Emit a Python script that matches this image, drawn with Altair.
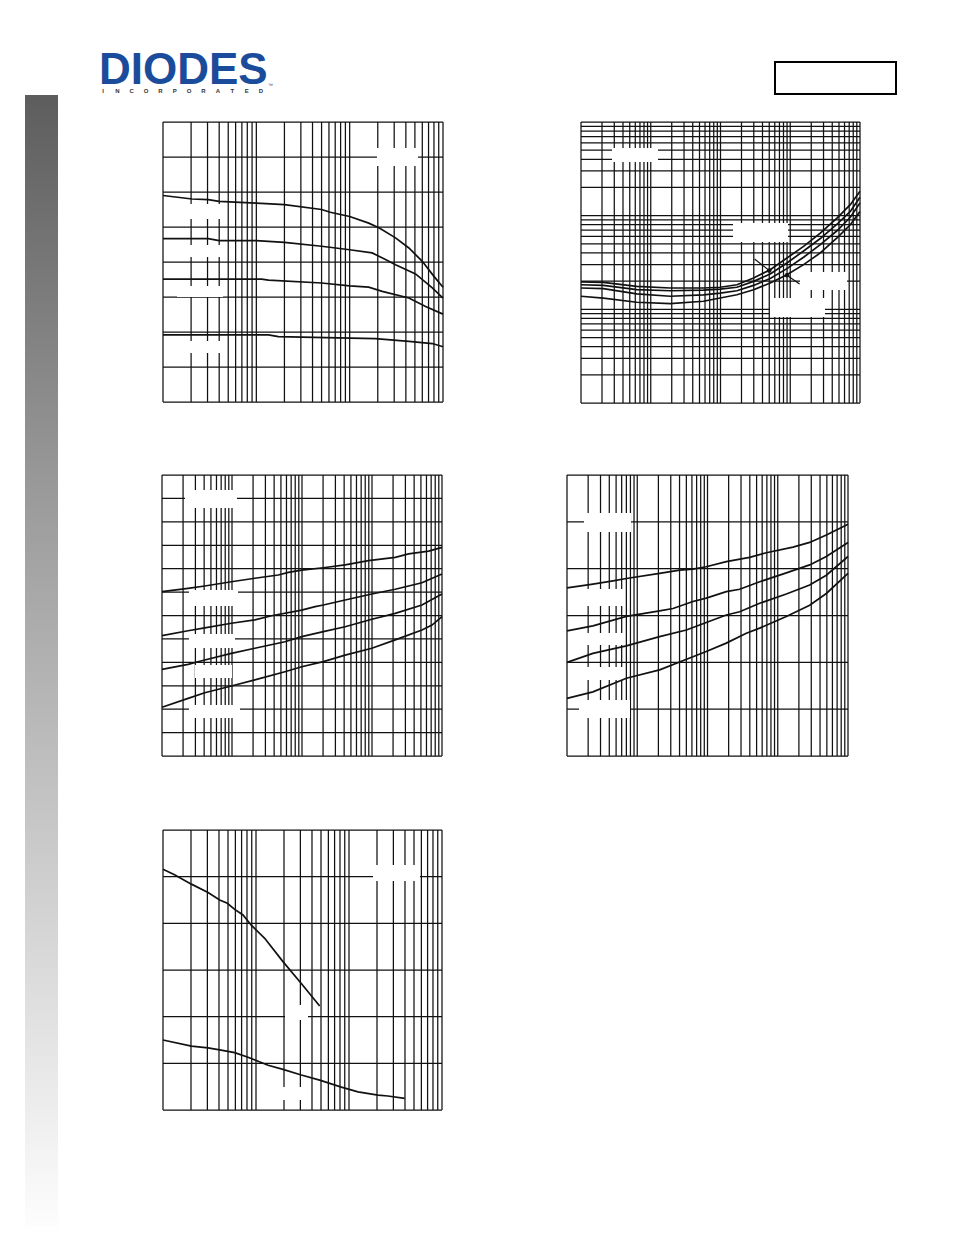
import altair as alt
import pandas as pd

# ---------------- data ----------------
# Panel 1 (x: log 1..1000, y: linear 0..8)
P1_A_X = [1, 2.05, 3.05, 4, 10, 20, 50, 62, 100, 160, 208, 310, 431, 600, 800, 1000]
P1_A_Y = [5.90, 5.80, 5.78, 5.73, 5.68, 5.64, 5.50, 5.42, 5.30, 5.11, 4.97, 4.69, 4.40, 4.02, 3.59, 3.28]
P1_B_X = [1, 3.05, 4, 10, 20, 50, 100, 174, 242, 310, 508, 768, 1000]
P1_B_Y = [4.67, 4.67, 4.61, 4.61, 4.56, 4.45, 4.35, 4.26, 4.07, 3.92, 3.66, 3.26, 2.97]
P1_C_X = [1, 11.4, 13.5, 50, 100, 160, 223, 431, 651, 1000]
P1_C_Y = [3.51, 3.51, 3.48, 3.40, 3.32, 3.28, 3.16, 2.97, 2.73, 2.51]
P1_D_X = [1, 13.5, 17.2, 76, 189, 431, 768, 1000]
P1_D_Y = [1.92, 1.92, 1.87, 1.83, 1.81, 1.73, 1.67, 1.58]

# Panel 2 (x: log 1..10000, y: log 1..1000)
P2_X = [1, 2.09, 6.3, 19, 57, 99, 172, 298, 516, 896, 1553, 2697, 4677, 7262, 10000]
P2_A_Y = [19.6, 19.4, 17.6, 16.9, 16.9, 17.2, 18.3, 21.6, 26.5, 35.3, 47, 65, 94, 131, 182]
P2_B_Y = [18.3, 18.0, 16.2, 15.8, 16.0, 16.4, 17.2, 19.9, 23.8, 31.2, 42, 57, 81, 111, 157]
P2_C_Y = [16.9, 16.6, 14.6, 13.8, 14.3, 14.9, 15.8, 18.0, 21.3, 27.2, 36, 49, 69, 96, 137]
P2_D_Y = [13.8, 13.2, 11.9, 11.5, 12.2, 13.2, 14.3, 16.2, 19.1, 23.4, 30, 40, 58, 80, 111]
P2_ARROW_X = [308, 500, 896, 1361]
P2_ARROW_Y = [34.5, 25.9, 23.1, 18.6]
P2_ARROW_ID = ["a1", "a1", "a2", "a2"]
P2_HEAD_X = [500, 896]
P2_HEAD_Y = [25.9, 23.1]

# Panel 3 (x: log 1..10000, y: linear 0..12)
P3_A_X = [1, 2.36, 4.08, 9.8, 21.2, 45.8, 64, 99, 202, 413, 891, 2148, 3334, 6442, 10000]
P3_A_Y = [7.02, 7.16, 7.26, 7.44, 7.59, 7.73, 7.84, 7.94, 8.04, 8.16, 8.34, 8.48, 8.63, 8.75, 8.91]
P3_B_X = [1, 2.36, 4.08, 9.8, 21.2, 36.8, 99, 154, 202, 413, 995, 2148, 5170, 10000]
P3_B_Y = [5.14, 5.35, 5.47, 5.67, 5.81, 5.99, 6.23, 6.38, 6.45, 6.66, 6.92, 7.12, 7.40, 7.77]
P3_C_X = [1, 2.36, 4.08, 9.8, 21.2, 57, 99, 202, 413, 995, 2148, 5170, 10000]
P3_C_Y = [3.70, 3.91, 4.10, 4.38, 4.60, 4.88, 5.10, 5.31, 5.52, 5.84, 6.09, 6.45, 6.92]
P3_D_X = [1, 2.36, 4.08, 9.8, 21.2, 57, 99, 202, 413, 995, 2148, 5170, 7194, 10000]
P3_D_Y = [2.08, 2.46, 2.70, 2.99, 3.25, 3.60, 3.81, 4.03, 4.31, 4.60, 4.96, 5.38, 5.59, 5.95]

# Panel 4 (x: log 1..10000, y: linear 0..6)
P4_A_X = [1, 2.34, 4.52, 7.0, 20.8, 40.2, 62, 96, 185, 398, 688, 1648, 2847, 4918, 10000]
P4_A_Y = [3.59, 3.67, 3.74, 3.79, 3.90, 3.97, 3.99, 4.04, 4.15, 4.24, 4.34, 4.46, 4.56, 4.72, 4.95]
P4_B_X = [1, 2.34, 7.0, 20.8, 32.3, 62, 96, 185, 287, 553, 1325, 2847, 4918, 10000]
P4_B_Y = [2.67, 2.78, 2.98, 3.10, 3.15, 3.30, 3.37, 3.51, 3.56, 3.72, 3.91, 4.08, 4.26, 4.56]
P4_C_X = [1, 2.34, 7.0, 20.8, 50, 96, 185, 287, 553, 1325, 2847, 4918, 10000]
P4_C_Y = [2.00, 2.19, 2.35, 2.55, 2.69, 2.85, 3.01, 3.08, 3.26, 3.46, 3.65, 3.86, 4.26]
P4_D_X = [1, 2.34, 7.0, 20.8, 62, 96, 185, 357, 553, 1325, 2847, 4918, 10000]
P4_D_Y = [1.23, 1.37, 1.66, 1.84, 2.12, 2.23, 2.41, 2.62, 2.73, 2.98, 3.22, 3.47, 3.90]

# Panel 5 (x: log 1..1000, y: linear 0..6)
P5_A_X = [1, 1.33, 2.02, 3.05, 4.07, 4.92, 5.9, 7.25, 8.9, 12.4, 19.5, 30.7, 48.4]
P5_A_Y = [5.16, 5.04, 4.84, 4.66, 4.50, 4.43, 4.30, 4.18, 3.96, 3.68, 3.18, 2.71, 2.23]
P5_B_X = [1, 2.02, 3.05, 4.07, 5.9, 8.2, 13.5, 19.5, 30.7, 48.4, 82.7, 125, 205, 262, 397]
P5_B_Y = [1.50, 1.37, 1.33, 1.29, 1.23, 1.13, 0.96, 0.87, 0.75, 0.64, 0.49, 0.39, 0.32, 0.30, 0.25]

# grid values
LOG3 = [k * 10 ** d for d in range(3) for k in range(1, 10)] + [1000]
LOG4 = [k * 10 ** d for d in range(4) for k in range(1, 10)] + [10000]
LIN8 = list(range(0, 9))
LIN12 = list(range(0, 13))
LIN6 = list(range(0, 7))

INCORP = list("INCORPORATED")

# ---------------- layout (chart pixel coordinates) ----------------
GEOM = {
    "p1": dict(xr=[155, 435], yr=[394, 114]),
    "p2": dict(xr=[573, 852], yr=[395, 114]),
    "p3": dict(xr=[154, 434], yr=[748, 467]),
    "p4": dict(xr=[559, 840], yr=[748, 467]),
    "p5": dict(xr=[155, 434], yr=[1102, 822]),
}
# blank label boxes (page pixels x1, y1, x2, y2)
BOXES = [
    (377, 148, 418, 166), (188, 204, 223, 219), (188, 245, 223, 257), (177, 286, 223, 297), (188, 341, 223, 353),
    (612, 148, 658, 162), (733, 223, 788, 242), (800, 272, 847, 290), (770, 298, 825, 317),
    (185, 490, 237, 508), (189, 590, 238, 606), (189, 634, 235, 648), (195, 665, 232, 678), (189, 705, 240, 718),
    (584, 513, 631, 532), (587, 589, 624, 606), (587, 633, 624, 645), (587, 667, 624, 680), (579, 700, 630, 718),
    (373, 865, 420, 881), (285, 1005, 308, 1020), (283, 1087, 302, 1100),
]

GRID_COLOR = "#111111"
LINE_COLOR = "#111111"


def scales(key, xdom, ydom, ylog):
    g = GEOM[key]
    xs = alt.Scale(type="log", domain=xdom, range=g["xr"], nice=False)
    if ylog:
        ys = alt.Scale(type="log", domain=ydom, range=g["yr"], nice=False)
    else:
        ys = alt.Scale(type="linear", domain=ydom, range=g["yr"], nice=False, zero=False)
    return xs, ys


def grid_layers(key, xdom, ydom, ylog, xgrid, ygrid):
    xs, ys = scales(key, xdom, ydom, ylog)
    vdf = pd.DataFrame({"gx": xgrid, "y0": ydom[0], "y1": ydom[1]})
    hdf = pd.DataFrame({"gy": ygrid, "x0": xdom[0], "x1": xdom[1]})
    v = alt.Chart(vdf).mark_rule(color=GRID_COLOR, strokeWidth=1.25).encode(
        x=alt.X("gx:Q", scale=xs, axis=None),
        y=alt.Y("y0:Q", scale=ys, axis=None),
        y2="y1:Q",
    )
    h = alt.Chart(hdf).mark_rule(color=GRID_COLOR, strokeWidth=1.25).encode(
        y=alt.Y("gy:Q", scale=ys, axis=None),
        x=alt.X("x0:Q", scale=xs, axis=None),
        x2="x1:Q",
    )
    return [v, h]


def curve_layer(key, xdom, ydom, ylog, series):
    xs, ys = scales(key, xdom, ydom, ylog)
    rows = []
    for name, xv, yv in series:
        for i, (a, b) in enumerate(zip(xv, yv)):
            rows.append({"s": name, "i": i, "x": a, "y": b})
    df = pd.DataFrame(rows)
    return alt.Chart(df).mark_line(color=LINE_COLOR, strokeWidth=1.7, clip=True).encode(
        x=alt.X("x:Q", scale=xs, axis=None),
        y=alt.Y("y:Q", scale=ys, axis=None),
        detail="s:N",
        order="i:Q",
    )


panels = [
    ("p1", [1, 1000], [0, 8], False, LOG3, LIN8,
     [("A", P1_A_X, P1_A_Y), ("B", P1_B_X, P1_B_Y), ("C", P1_C_X, P1_C_Y), ("D", P1_D_X, P1_D_Y)]),
    ("p2", [1, 10000], [1, 1000], True, LOG4, LOG3,
     [("A", P2_X, P2_A_Y), ("B", P2_X, P2_B_Y), ("C", P2_X, P2_C_Y), ("D", P2_X, P2_D_Y)]),
    ("p3", [1, 10000], [0, 12], False, LOG4, LIN12,
     [("A", P3_A_X, P3_A_Y), ("B", P3_B_X, P3_B_Y), ("C", P3_C_X, P3_C_Y), ("D", P3_D_X, P3_D_Y)]),
    ("p4", [1, 10000], [0, 6], False, LOG4, LIN6,
     [("A", P4_A_X, P4_A_Y), ("B", P4_B_X, P4_B_Y), ("C", P4_C_X, P4_C_Y), ("D", P4_D_X, P4_D_Y)]),
    ("p5", [1, 1000], [0, 6], False, LOG3, LIN6,
     [("A", P5_A_X, P5_A_Y), ("B", P5_B_X, P5_B_Y)]),
]

layers = []

one = pd.DataFrame({"k": [0]})

# left gradient bar
bar = alt.Chart(one).mark_rect(
    color=alt.Gradient(
        gradient="linear",
        stops=[alt.GradientStop(color="#5d5d5d", offset=0),
               alt.GradientStop(color="#9a9a9a", offset=0.35),
               alt.GradientStop(color="#fdfdfd", offset=1)],
        x1=0, x2=0, y1=0, y2=1,
    )
).encode(x=alt.value(17), x2=alt.value(50), y=alt.value(87), y2=alt.value(1219))
layers.append(bar)

# logo
logo = alt.Chart(one).mark_text(
    text="DIODES", align="left", baseline="alphabetic", fontSize=44,
    font="Liberation Sans", fontWeight="bold", color="#1b4c9b",
).encode(x=alt.value(91), y=alt.value(76))
layers.append(logo)
tm = alt.Chart(one).mark_text(text="™", align="left", baseline="alphabetic", fontSize=5,
                              font="Liberation Sans", color="#1b4c9b").encode(
    x=alt.value(260), y=alt.value(79))
layers.append(tm)
inc_df = pd.DataFrame({"i": list(range(len(INCORP))), "t": INCORP})
inc = alt.Chart(inc_df).mark_text(fontSize=6, font="Liberation Sans", fontWeight="bold",
                                  color="#333333", baseline="middle").encode(
    x=alt.X("i:Q", scale=alt.Scale(domain=[0, len(INCORP) - 1], range=[95, 253], nice=False, zero=False), axis=None),
    y=alt.value(83),
    text="t:N",
)
layers.append(inc)

# top-right box
tr = alt.Chart(one).mark_rect(fill=None, stroke="#000000", strokeWidth=2).encode(
    x=alt.value(767), x2=alt.value(888), y=alt.value(54), y2=alt.value(86))
layers.append(tr)

# grids
for key, xdom, ydom, ylog, xg, yg, series in panels:
    layers.extend(grid_layers(key, xdom, ydom, ylog, xg, yg))

# blank label boxes
bdf = pd.DataFrame(BOXES, columns=["x1", "y1", "x2", "y2"])
for c in ["x1", "x2", "y1", "y2"]:
    bdf[c] = bdf[c] - 8
boxes = alt.Chart(bdf).mark_rect(color="white").encode(
    x=alt.X("x1:Q", scale=None, axis=None), x2="x2:Q",
    y=alt.Y("y1:Q", scale=None, axis=None), y2="y2:Q",
)
layers.append(boxes)

# curves
for key, xdom, ydom, ylog, xg, yg, series in panels:
    layers.append(curve_layer(key, xdom, ydom, ylog, series))

# arrows in panel 2
xs2, ys2 = scales("p2", [1, 10000], [1, 1000], True)
arr_df = pd.DataFrame({"x": P2_ARROW_X, "y": P2_ARROW_Y, "g": P2_ARROW_ID})
arrows = alt.Chart(arr_df).mark_line(color=LINE_COLOR, strokeWidth=1.2).encode(
    x=alt.X("x:Q", scale=xs2, axis=None), y=alt.Y("y:Q", scale=ys2, axis=None), detail="g:N")
layers.append(arrows)
head_df = pd.DataFrame({"x": P2_HEAD_X, "y": P2_HEAD_Y})
heads = alt.Chart(head_df).mark_point(filled=True, color=LINE_COLOR, size=22, opacity=1).encode(
    x=alt.X("x:Q", scale=xs2, axis=None), y=alt.Y("y:Q", scale=ys2, axis=None))
layers.append(heads)

chart = alt.layer(*layers).resolve_scale(x="independent", y="independent").properties(
    width=938, height=1219, padding=0, autosize="none", background="white"
).configure_view(stroke=None)

chart.save("out.html", embed_options={"renderer": "svg", "actions": False})
